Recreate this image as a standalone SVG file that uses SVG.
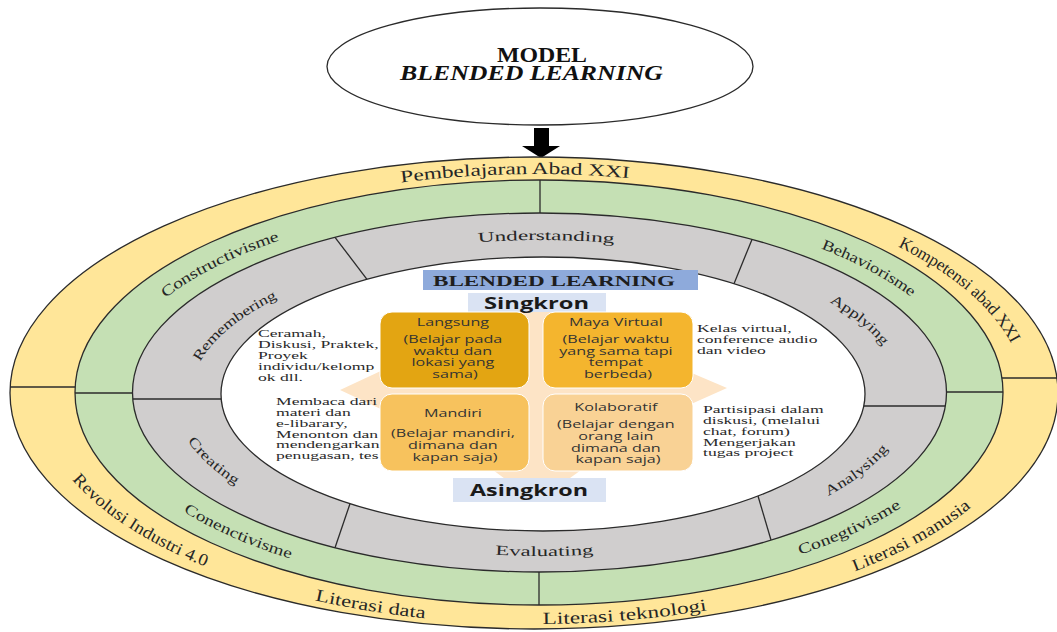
<svg xmlns="http://www.w3.org/2000/svg" width="1057" height="632" viewBox="0 0 1057 632">
<style>
  .ser{font-family:"Liberation Serif","Times New Roman",serif;fill:#2a2a2a}
  .sans{font-family:"Open Sans","Liberation Sans",Arial,sans-serif;fill:#333}
  .rl{font-family:"Liberation Serif","Times New Roman",serif;fill:#262626;dominant-baseline:central}
  .stk{stroke:#2b2b2b;stroke-width:1.3}
  .ln{stroke:#2b2b2b;stroke-width:1.3;fill:none}
  .box{stroke:#ffffff;stroke-width:1}
</style>
<defs>
  <path id="yT" d="M42,393 A494,225 0 0 1 1030,393"/>
  <path id="yB" d="M42,393 A494,225 0 0 0 1030,393"/>
  <path id="gT" d="M103.5,392.5 A435.5,196 0 0 1 974.5,392.5"/>
  <path id="gB" d="M103.5,392.5 A435.5,196 0 0 0 974.5,392.5"/>
  <path id="rT" d="M176.5,393 A364.5,158 0 0 1 905.5,393"/>
  <path id="rT2" d="M187,393 A354,150 0 0 1 895,393"/>
  <path id="rB" d="M176.5,393 A364.5,158 0 0 0 905.5,393"/>
</defs>
<rect width="1057" height="632" fill="#ffffff"/>

<g id="model">
  <ellipse cx="540" cy="66.5" rx="213" ry="58.5" fill="#ffffff" class="stk"/>
  <text class="ser" x="542" y="62" text-anchor="middle" font-size="20" font-weight="bold" style="fill:#111" textLength="90" lengthAdjust="spacingAndGlyphs">MODEL</text>
  <text class="ser" x="531.5" y="80" text-anchor="middle" font-size="20" font-weight="bold" font-style="italic" style="fill:#111" textLength="263" lengthAdjust="spacingAndGlyphs">BLENDED LEARNING</text>
</g>

<g id="connectors">
  <polygon points="534,128 549,128 549,146 560,146 541,158 522,146 534,146" fill="#000000"/>
</g>

<g id="ring-yellow">
  <ellipse cx="534" cy="393" rx="524" ry="236" fill="#ffe699" class="stk"/>
  <line x1="10" y1="387" x2="75.5" y2="387" class="ln"/>
  <line x1="1001.5" y1="378" x2="1057" y2="378" class="ln"/>
</g>

<g id="ring-green">
  <ellipse cx="539" cy="392.5" rx="464" ry="212.5" fill="#c5e0b4" class="stk"/>
  <line x1="75" y1="393" x2="132.5" y2="393" class="ln"/>
  <line x1="946.5" y1="392" x2="1003" y2="392" class="ln"/>
  <line x1="540" y1="180" x2="540" y2="213" class="ln"/>
  <line x1="539" y1="572" x2="539" y2="605" class="ln"/>
</g>

<g id="ring-gray">
  <ellipse cx="539.5" cy="392.5" rx="407" ry="179.5" fill="#d0cece" class="stk"/>
  <line x1="132.8" y1="399" x2="221.2" y2="399" class="ln"/>
  <line x1="863.8" y1="406" x2="945.3" y2="406" class="ln"/>
  <line x1="335" y1="237.3" x2="367" y2="279.3" class="ln"/>
  <line x1="752" y1="239.4" x2="734" y2="283.7" class="ln"/>
  <line x1="350" y1="503.7" x2="335" y2="547.7" class="ln"/>
  <line x1="758" y1="496" x2="771" y2="540" class="ln"/>
</g>

<g id="ring-labels">
  <text class="rl" font-size="17" text-anchor="middle"><textPath href="#yT" startOffset="48.2%" textLength="230" lengthAdjust="spacingAndGlyphs">Pembelajaran Abad XXI</textPath></text>
  <text class="rl" font-size="17" text-anchor="middle"><textPath href="#yT" startOffset="88.7%" textLength="155" lengthAdjust="spacingAndGlyphs">Kompetensi abad XXI</textPath></text>
  <text class="rl" font-size="17" text-anchor="middle"><textPath href="#yB" startOffset="14.6%" textLength="158" lengthAdjust="spacingAndGlyphs">Revolusi Industri 4.0</textPath></text>
  <text class="rl" font-size="17" text-anchor="middle"><textPath href="#yB" startOffset="35.8%" textLength="111" lengthAdjust="spacingAndGlyphs">Literasi data</textPath></text>
  <text class="rl" font-size="17" text-anchor="middle"><textPath href="#yB" startOffset="57.6%" textLength="164" lengthAdjust="spacingAndGlyphs">Literasi teknologi</textPath></text>
  <text class="rl" font-size="17" text-anchor="middle"><textPath href="#yB" startOffset="83.2%" textLength="132" lengthAdjust="spacingAndGlyphs">Literasi manusia</textPath></text>

  <text class="rl" font-size="15" text-anchor="middle"><textPath href="#gT" startOffset="17.9%" textLength="130" lengthAdjust="spacingAndGlyphs">Constructivisme</textPath></text>
  <text class="rl" font-size="15" text-anchor="middle"><textPath href="#gT" startOffset="83.2%" textLength="104" lengthAdjust="spacingAndGlyphs">Behaviorisme</textPath></text>
  <text class="rl" font-size="15" text-anchor="middle"><textPath href="#gB" startOffset="20%" textLength="116" lengthAdjust="spacingAndGlyphs">Conenctivisme</textPath></text>
  <text class="rl" font-size="15" text-anchor="middle"><textPath href="#gB" startOffset="81%" textLength="111" lengthAdjust="spacingAndGlyphs">Conegtivisme</textPath></text>

  <text class="rl" font-size="14" text-anchor="middle"><textPath href="#rT" startOffset="50.6%" textLength="137" lengthAdjust="spacingAndGlyphs">Understanding</textPath></text>
  <text class="rl" font-size="14" text-anchor="middle"><textPath href="#rT" startOffset="89.4%" textLength="71" lengthAdjust="spacingAndGlyphs">Applying</textPath></text>
  <text class="rl" font-size="14" text-anchor="middle"><textPath href="#rT2" startOffset="10.6%" textLength="104" lengthAdjust="spacingAndGlyphs">Remembering</textPath></text>
  <text class="rl" font-size="14" text-anchor="middle"><textPath href="#rB" startOffset="9.4%" textLength="64" lengthAdjust="spacingAndGlyphs">Creating</textPath></text>
  <text class="rl" font-size="14" text-anchor="middle"><textPath href="#rB" startOffset="88.8%" textLength="75" lengthAdjust="spacingAndGlyphs">Analysing</textPath></text>
  <text class="rl" font-size="14" text-anchor="middle"><textPath href="#rB" startOffset="50.4%" textLength="98" lengthAdjust="spacingAndGlyphs">Evaluating</textPath></text>
</g>

<g id="center">
  <ellipse cx="543" cy="394" rx="322" ry="137" fill="#ffffff" class="stk"/>
  <g id="cross">
    <polygon points="340,390 385,369 680,368 727,388 680,409 385,411" fill="#fde4c6"/>
    <polygon points="537,293 588,330 588,465 537,502 486,465 486,330" fill="#fde4c6"/>
  </g>
</g>

<g id="header">
  <rect x="423" y="270" width="275" height="20" fill="#8eaadb"/>
  <text class="ser" x="554" y="285.5" text-anchor="middle" font-size="14" font-weight="bold" style="fill:#1e1e1e" textLength="242" lengthAdjust="spacingAndGlyphs">BLENDED LEARNING</text>
</g>

<g id="singkron">
  <rect x="468" y="293" width="138" height="19" fill="#dae3f3"/>
  <text class="sans" x="536.5" y="309" text-anchor="middle" font-size="16" font-weight="bold" style="fill:#1a1a1a" textLength="105" lengthAdjust="spacingAndGlyphs">Singkron</text>
</g>

<g id="asingkron">
  <rect x="453" y="478" width="153" height="24" fill="#dae3f3"/>
  <text class="sans" x="529" y="496" text-anchor="middle" font-size="16" font-weight="bold" style="fill:#1a1a1a" textLength="118" lengthAdjust="spacingAndGlyphs">Asingkron</text>
</g>

<g id="langsung">
  <rect x="380" y="312" width="149" height="76" rx="12" fill="#e3a512" class="box"/>
  <text class="sans" font-size="11" text-anchor="middle" transform="translate(455,0) scale(1.47,1)">
    <tspan x="0" y="326.5">Langsung</tspan>
    <tspan x="0" y="343.5">(Belajar pada</tspan>
    <tspan x="0" y="355">waktu dan</tspan>
    <tspan x="0" y="366.5">lokasi yang</tspan>
    <tspan x="0" y="378">sama)</tspan>
  </text>
</g>

<g id="maya-virtual">
  <rect x="543" y="312" width="150" height="76" rx="12" fill="#f4b52e" class="box"/>
  <text class="sans" font-size="11" text-anchor="middle" transform="translate(618,0) scale(1.47,1)">
    <tspan x="0" y="326.5">Maya Virtual</tspan>
    <tspan x="0" y="343.5">(Belajar waktu</tspan>
    <tspan x="0" y="355.5">yang sama tapi</tspan>
    <tspan x="0" y="366.5">tempat</tspan>
    <tspan x="0" y="378">berbeda)</tspan>
  </text>
</g>

<g id="mandiri">
  <rect x="380" y="394" width="149" height="77" rx="12" fill="#f7c25d" class="box"/>
  <text class="sans" font-size="11" text-anchor="middle" transform="translate(455,0) scale(1.47,1)">
    <tspan x="0" y="417">Mandiri</tspan>
    <tspan x="0" y="437.5">(Belajar mandiri,</tspan>
    <tspan x="0" y="449.2">dimana dan</tspan>
    <tspan x="0" y="460.9">kapan saja)</tspan>
  </text>
</g>

<g id="kolaboratif">
  <rect x="543" y="394" width="150" height="77" rx="12" fill="#f9d295" class="box"/>
  <text class="sans" font-size="11" text-anchor="middle" transform="translate(618,0) scale(1.47,1)">
    <tspan x="0" y="411">Kolaboratif</tspan>
    <tspan x="0" y="428.5">(Belajar dengan</tspan>
    <tspan x="0" y="440.5">orang lain</tspan>
    <tspan x="0" y="452">dimana dan</tspan>
    <tspan x="0" y="463.5">kapan saja)</tspan>
  </text>
</g>

<g id="note-langsung">
  <text class="ser" font-size="11" transform="translate(258,0) scale(1.6,1)">
    <tspan x="0" y="337.5">Ceramah,</tspan>
    <tspan x="0" y="348.3">Diskusi, Praktek,</tspan>
    <tspan x="0" y="359.1">Proyek</tspan>
    <tspan x="0" y="369.9">individu/kelomp</tspan>
    <tspan x="0" y="380.7">ok dll.</tspan>
  </text>
</g>

<g id="note-mandiri">
  <text class="ser" font-size="11" transform="translate(276,0) scale(1.6,1)">
    <tspan x="0" y="405.5">Membaca dari</tspan>
    <tspan x="0" y="416.3">materi dan</tspan>
    <tspan x="0" y="427">e-libarary,</tspan>
    <tspan x="0" y="437.7">Menonton dan</tspan>
    <tspan x="0" y="448.5">mendengarkan</tspan>
    <tspan x="0" y="459">penugasan, tes</tspan>
  </text>
</g>

<g id="note-maya">
  <text class="ser" font-size="11" transform="translate(697,0) scale(1.6,1)">
    <tspan x="0" y="332.5">Kelas virtual,</tspan>
    <tspan x="0" y="343.3">conference audio</tspan>
    <tspan x="0" y="354">dan video</tspan>
  </text>
</g>

<g id="note-kolaboratif">
  <text class="ser" font-size="11" transform="translate(703,0) scale(1.6,1)">
    <tspan x="0" y="413.5">Partisipasi dalam</tspan>
    <tspan x="0" y="424.3">diskusi, (melalui</tspan>
    <tspan x="0" y="435">chat, forum)</tspan>
    <tspan x="0" y="445.8">Mengerjakan</tspan>
    <tspan x="0" y="456.5">tugas project</tspan>
  </text>
</g>
</svg>
